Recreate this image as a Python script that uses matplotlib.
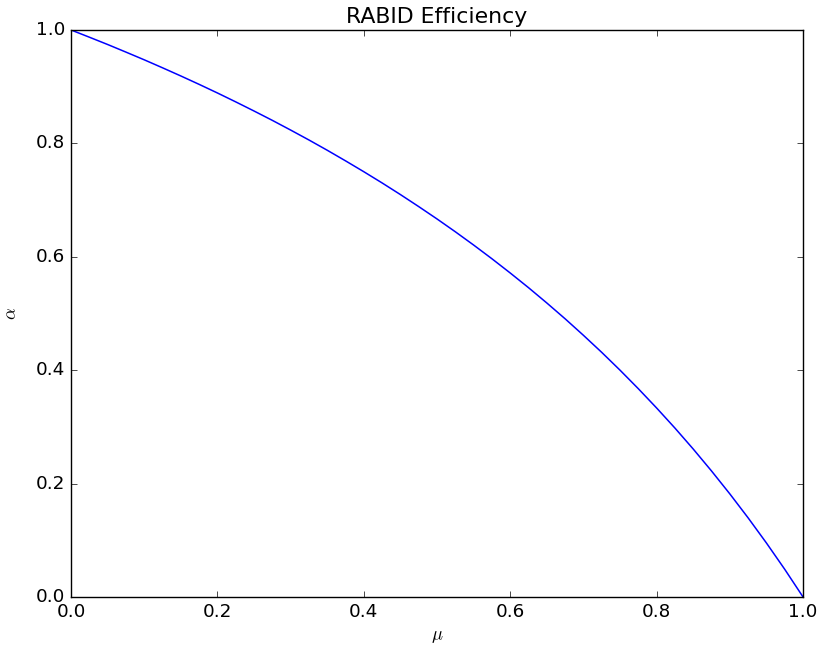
import numpy as np
import matplotlib
matplotlib.use('Agg')
import matplotlib.pyplot as plt

# efficiency curve values
mu = [0.000, 0.025, 0.050, 0.075, 0.100, 0.125, 0.150, 0.175, 0.200, 0.225,
      0.250, 0.275, 0.300, 0.325, 0.350, 0.375, 0.400, 0.425, 0.450, 0.475,
      0.500, 0.525, 0.550, 0.575, 0.600, 0.625, 0.650, 0.675, 0.700, 0.725,
      0.750, 0.775, 0.800, 0.825, 0.850, 0.875, 0.900, 0.925, 0.950, 0.975, 1.000]
alpha = [1.0000, 0.9873, 0.9744, 0.9610, 0.9474, 0.9333, 0.9189, 0.9041, 0.8889, 0.8732,
         0.8571, 0.8406, 0.8235, 0.8060, 0.7879, 0.7692, 0.7500, 0.7302, 0.7097, 0.6885,
         0.6667, 0.6441, 0.6207, 0.5965, 0.5714, 0.5455, 0.5185, 0.4906, 0.4615, 0.4314,
         0.4000, 0.3673, 0.3333, 0.2979, 0.2609, 0.2222, 0.1818, 0.1395, 0.0952, 0.0488, 0.0000]
xticks = [0.0, 0.2, 0.4, 0.6, 0.8, 1.0]
yticks = [0.0, 0.2, 0.4, 0.6, 0.8, 1.0]

plt.style.use('classic')
plt.rcParams['font.size'] = 13.2
fig = plt.figure(figsize=(8.19, 6.46), dpi=100, facecolor='white')
ax = fig.add_axes([0.0867, 0.0759, 0.8938, 0.8777])

ax.plot(mu, alpha, color='b', linewidth=1.1)
ax.set_xlim(0, 1)
ax.set_ylim(0, 1)
ax.set_xticks(xticks)
ax.set_yticks(yticks)
ax.set_xlabel(r'$\mu$')
ax.set_ylabel(r'$\alpha$')
ax.yaxis.set_label_coords(-0.07, 0.5)
ax.set_title('RABID Efficiency')

fig.savefig('out.png', dpi=100, facecolor='white')
